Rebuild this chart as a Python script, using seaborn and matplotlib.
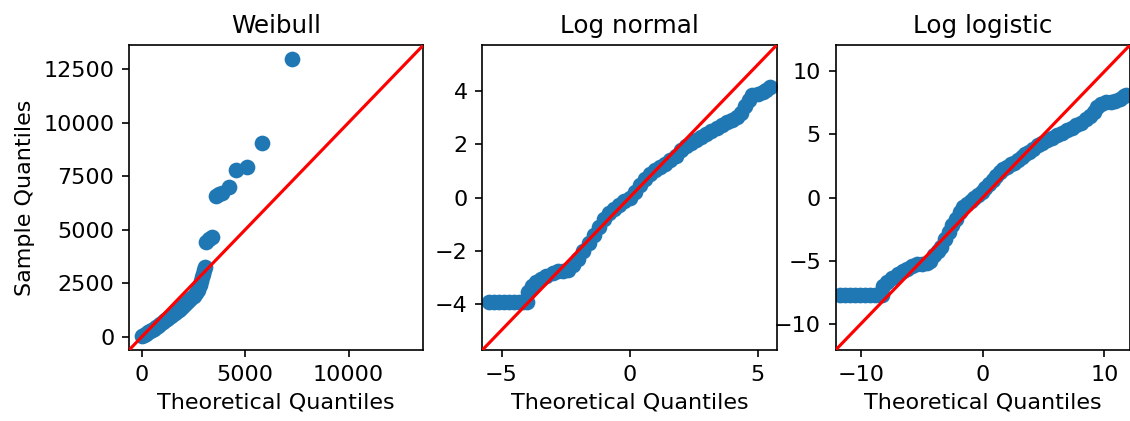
import matplotlib
matplotlib.use("Agg")
import matplotlib.pyplot as plt
from matplotlib.ticker import MultipleLocator
import seaborn as sns
import pandas as pd

plt.rcParams['font.family'] = ['DejaVu Sans']
plt.rcParams.update({
    "font.size": 16,
    "axes.titlesize": 17.7,
    "axes.labelsize": 16,
    "xtick.labelsize": 16,
    "ytick.labelsize": 16,
    "axes.linewidth": 1.2,
    "xtick.major.size": 5.25,
    "ytick.major.size": 5.25,
    "xtick.major.width": 1.2,
    "ytick.major.width": 1.2,
    "xtick.major.pad": 5.25,
    "ytick.major.pad": 5.25,
    "axes.labelpad": 6,
    "axes.titlepad": 9,
})

titles = ["Weibull", "Log normal", "Log logistic"]

# Weibull: theoretical vs sample quantiles
weibull_theo = [0, 100, 200, 300, 400, 500, 600, 700, 800, 900, 1000, 1100, 1200, 1300,
                1400, 1500, 1600, 1700, 1800, 1900, 2000, 2100, 2200, 2300, 2400, 2500,
                2600, 2700, 2800, 2850, 2900, 2950, 3000, 3050,
                3125, 3250, 3396, 3607, 3750, 3897, 4218, 4575, 5087, 5830, 7261]
weibull_samp = [20, 80, 150, 200, 260, 320, 380, 450, 520, 600, 680, 760, 830, 900,
                970, 1040, 1110, 1180, 1260, 1340, 1420, 1510, 1600, 1700, 1800, 1920,
                2050, 2200, 2400, 2600, 2800, 2950, 3100, 3250,
                4445, 4550, 4678, 6576, 6650, 6730, 7010, 7790, 7943, 9034, 12966]

lognorm_theo = [-5.5, -5.3, -5.1, -4.9, -4.7, -4.5, -4.3, -4.15, -4.0,
                -3.95, -3.8, -3.64, -3.45, -3.25, -3.0, -2.8, -2.6, -2.4, -2.2,
                -2.0, -1.8, -1.6, -1.4, -1.2, -1.0, -0.8, -0.6, -0.4, -0.2, 0.0,
                0.2, 0.4, 0.6, 0.8, 1.0, 1.2, 1.4, 1.6, 1.8, 2.0, 2.2, 2.4, 2.6,
                2.8, 3.0, 3.2, 3.4, 3.6, 3.8, 4.0, 4.2, 4.35, 4.5, 4.65, 4.8, 5.0,
                5.2, 5.35, 5.5]
lognorm_samp = [-3.95, -3.95, -3.95, -3.95, -3.95, -3.95, -3.95, -3.93, -3.93,
                -3.55, -3.35, -3.2, -3.08, -2.97, -2.85, -2.78, -2.76, -2.74, -2.55,
                -2.3, -2.0, -1.72, -1.4, -1.1, -0.8, -0.6, -0.42, -0.28, -0.14, 0.0,
                0.22, 0.48, 0.7, 0.9, 1.03, 1.15, 1.28, 1.4, 1.58, 1.8, 1.93, 2.04, 2.16,
                2.27, 2.38, 2.5, 2.62, 2.73, 2.83, 2.93, 3.05, 3.2, 3.45, 3.68, 3.85, 3.92,
                3.97, 4.05, 4.15]

loglog_theo = [-11.7, -11.3, -10.9, -10.5, -10.1, -9.7, -9.3, -8.9, -8.5, -8.3,
               -8.2, -7.9, -7.5, -7.0, -6.6, -6.2, -5.8, -5.4, -5.0, -4.6, -4.3,
               -4.0, -3.7, -3.4, -3.1, -2.8, -2.5, -2.2, -1.9, -1.6, -1.3, -1.0,
               -0.7, -0.4, -0.1, 0.2, 0.5, 0.8, 1.1, 1.4, 1.7, 2.0, 2.3, 2.6, 2.9,
               3.2, 3.5, 3.8, 4.1, 4.5, 4.9, 5.3, 5.7, 6.1, 6.5, 6.9, 7.3, 7.7, 8.1,
               8.5, 8.8, 9.1, 9.4, 9.7, 10.1, 10.5, 10.9, 11.3, 11.6, 11.8]
loglog_samp = [-7.75, -7.75, -7.75, -7.75, -7.75, -7.75, -7.75, -7.75, -7.75, -7.75,
               -7.0, -6.7, -6.4, -6.05, -5.85, -5.65, -5.45, -5.3, -5.25, -5.2, -5.0,
               -4.6, -4.25, -3.9, -3.3, -2.7, -2.2, -1.7, -1.15, -0.75, -0.5, -0.25,
               -0.05, 0.2, 0.45, 0.75, 1.05, 1.35, 1.7, 2.0, 2.25, 2.45, 2.65, 2.75, 2.95,
               3.2, 3.45, 3.65, 3.85, 4.15, 4.35, 4.55, 4.75, 4.95, 5.15, 5.35, 5.52, 5.72, 5.95,
               6.2, 6.45, 6.8, 7.2, 7.45, 7.55, 7.6, 7.65, 7.8, 8.05, 8.15]

panels = [
    (weibull_theo, weibull_samp, (-620, 13620), (5000, 2500)),
    (lognorm_theo, lognorm_samp, (-5.75, 5.75), (5, 2)),
    (loglog_theo, loglog_samp, (-12.1, 12.1), (10, 5)),
]

fig, axes = plt.subplots(1, 3, figsize=(11.3, 4.21), dpi=100)
fig.subplots_adjust(left=0.1142, right=1.0, bottom=0.1686, top=0.8931, wspace=0.2)

for ax, title, (xt, ys, lim, steps) in zip(axes, titles, panels):
    df = pd.DataFrame({"theo": xt, "samp": ys})
    sns.scatterplot(data=df, x="theo", y="samp", ax=ax, color="#1f77b4",
                    s=128, linewidth=0, edgecolor=None, zorder=2)
    ax.axline((0, 0), slope=1, color="red", linewidth=2.25, zorder=3)
    ax.set_xlim(*lim)
    ax.set_ylim(*lim)
    ax.xaxis.set_major_locator(MultipleLocator(steps[0]))
    ax.yaxis.set_major_locator(MultipleLocator(steps[1]))
    ax.set_title(title)
    ax.set_xlabel("Theoretical Quantiles")
    ax.set_ylabel("")

axes[0].set_ylabel("Sample Quantiles")

fig.savefig("out.png", dpi=100)
